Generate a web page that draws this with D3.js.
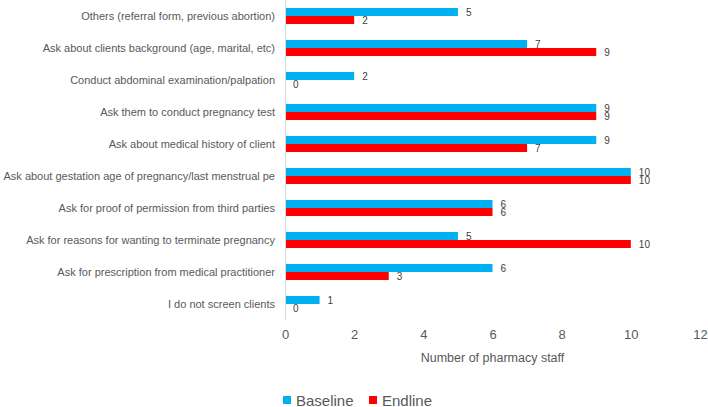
<!DOCTYPE html>
<html>
<head>
<meta charset="utf-8">
<script src="https://cdn.jsdelivr.net/npm/d3@7"></script>
<style>
  body { margin: 0; background: #fff; }
  svg { display: block; font-family: "Liberation Sans", Arial, sans-serif; }
</style>
</head>
<body>
<div id="chart"></div>
<script>
// categories top to bottom
var categories = [
  "Others (referral form, previous abortion)",
  "Ask about clients background (age, marital, etc)",
  "Conduct abdominal examination/palpation",
  "Ask them to conduct pregnancy test",
  "Ask about medical history of client",
  "Ask about gestation age of pregnancy/last menstrual pe",
  "Ask for proof of permission from third parties",
  "Ask for reasons for wanting to terminate pregnancy",
  "Ask for prescription from medical practitioner",
  "I do not screen clients"
];
var baseline = [5, 7, 2, 9, 9, 10, 6, 5, 6, 1];
var endline = [2, 9, 0, 9, 7, 10, 6, 10, 3, 0];
var seriesNames = ["Baseline", "Endline"];
var seriesColors = ["#00b0f0", "#ff0000"];
var xTicks = [0, 2, 4, 6, 8, 10, 12];

var W = 708, H = 407;
var margin = {top: 0, left: 285};
var width = 700 - margin.left,
    height = 320;

var svg = d3.select("#chart").append("svg")
  .attr("width", W).attr("height", H);

var g = svg.append("g")
  .attr("transform", "translate(" + margin.left + "," + margin.top + ")");

var x = d3.scaleLinear().domain([0, 12]).range([0, width]);
var y = d3.scaleBand().domain(categories).range([0, height]).paddingInner(0.5).paddingOuter(0.25);
var ySub = d3.scaleBand().domain(seriesNames).range([0, y.bandwidth()]);

// x axis tick labels (no line)
var xAxis = g.append("g")
  .attr("transform", "translate(0," + height + ")")
  .call(d3.axisBottom(x).tickValues(xTicks).tickSize(0).tickPadding(10));
xAxis.select(".domain").remove();
xAxis.selectAll("text")
  .attr("fill", "#595959")
  .style("font-size", "13px")
  .style("font-family", "Liberation Sans, Arial, sans-serif");

// y axis
var yAxis = g.append("g")
  .call(d3.axisLeft(y).tickSize(0).tickPadding(10));
yAxis.select(".domain").attr("stroke", "#d9d9d9").attr("d", "M0.5,0V" + height);
yAxis.selectAll("text")
  .attr("fill", "#595959")
  .style("font-size", "11px")
  .style("font-family", "Liberation Sans, Arial, sans-serif");

var data = categories.map(function(c, i) {
  return {cat: c, vals: [baseline[i], endline[i]]};
});

var groups = g.selectAll(".grp").data(data).enter().append("g")
  .attr("class", "grp")
  .attr("transform", function(d) { return "translate(0," + y(d.cat) + ")"; });

groups.selectAll("rect")
  .data(function(d) { return d.vals.map(function(v, j) { return {v: v, s: seriesNames[j], j: j}; }); })
  .enter().append("rect")
  .attr("x", x(0) + 1)
  .attr("y", function(d) { return ySub(d.s); })
  .attr("width", function(d) { return Math.max(0, x(d.v) - x(0) - 1); })
  .attr("height", ySub.bandwidth())
  .attr("fill", function(d) { return seriesColors[d.j]; });

groups.selectAll("text.val")
  .data(function(d) { return d.vals.map(function(v, j) { return {v: v, s: seriesNames[j], j: j}; }); })
  .enter().append("text")
  .attr("class", "val")
  .attr("x", function(d) { return x(d.v) + 8; })
  .attr("y", function(d) { return ySub(d.s) + ySub.bandwidth() / 2 + 3.5; })
  .attr("fill", "#404040")
  .style("font-size", "10px")
  .text(function(d) { return d.v; });

// axis title
svg.append("text")
  .attr("x", margin.left + x(6))
  .attr("y", 362)
  .attr("text-anchor", "middle")
  .attr("fill", "#595959")
  .style("font-size", "12.5px")
  .text("Number of pharmacy staff");

// legend
var legend = svg.append("g").attr("transform", "translate(283,401)");
var lx = [0, 86];
seriesNames.forEach(function(n, i) {
  var item = legend.append("g").attr("transform", "translate(" + lx[i] + ",0)");
  item.append("rect").attr("x", 0).attr("y", -5).attr("width", 8).attr("height", 8)
    .attr("fill", seriesColors[i]);
  item.append("text").attr("x", 13).attr("y", 4.5)
    .attr("fill", "#595959")
    .style("font-size", "15px")
    .text(n);
});
</script>
</body>
</html>
